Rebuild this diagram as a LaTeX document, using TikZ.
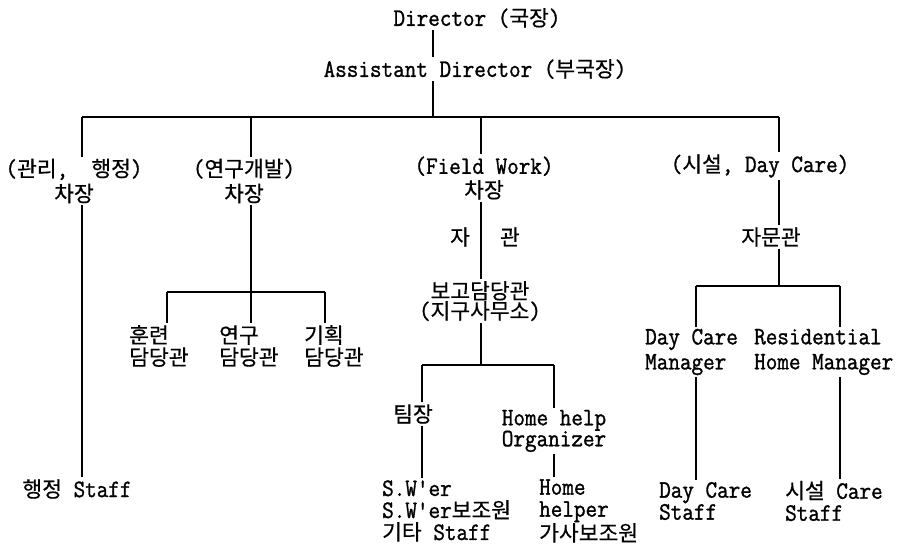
\documentclass[tikz,border=0pt]{standalone}
\usepackage{fontspec}
\setmonofont[FakeStretch=0.9,FakeBold=1.2]{Latin Modern Mono}
\newfontfamily\korfont[Scale=0.86,FakeBold=0.5]{Noto Sans CJK KR}
\newcommand\kor[1]{{\korfont #1}}
\begin{document}
\begin{tikzpicture}[x=1pt,y=-1pt,
  lbl/.style={font=\fontsize{25}{22}\selectfont\ttfamily, inner sep=2pt, align=center},
  lft/.style={font=\fontsize{25}{22}\selectfont\ttfamily, inner sep=2pt, align=left, anchor=west},
  conn/.style={line width=1.3pt}]
\useasboundingbox (0,0) rectangle (905,549);
% nodes
\node[lbl] (dir) at (477,18) {Director (\kor{국장})};
\node[lbl] (asst) at (475,69) {Assistant Director (\kor{부국장})};
\node[lbl] (h1) at (74,181) {(\kor{관리},~~\kor{행정})\\[3pt]\kor{차장}};
\node[lbl] (h2) at (244,181) {(\kor{연구개발})\\[3pt]\kor{차장}};
\node[lbl] (h3) at (484,178) {(Field Work)\\[2pt]\kor{차장}};
\node[lbl] (h4) at (760,166) {(\kor{시설}, Day Care)};
\node[lbl] (jagwan) at (485,237) {\kor{자}\hspace{30pt}\kor{관}};
\node[lbl] (jamun) at (771,237) {\kor{자문관}};
\node[lbl] (rep) at (480,301) {\kor{보고담당관}\\[-2pt](\kor{지구사무소})};
\node[lft] (t1) at (127,346) {\kor{훈련}\\\kor{담당관}};
\node[lft] (t2) at (217,346) {\kor{연구}\\\kor{담당관}};
\node[lft] (t3) at (302,346) {\kor{기획}\\\kor{담당관}};
\node[lft] (mgr1) at (643,352) {Day Care\\[3pt]Manager};
\node[lft] (mgr2) at (752,352) {Residential\\[3pt]Home Manager};
\node[lbl] (team) at (413,414) {\kor{팀장}};
\node[lbl] (hho) at (554,431) {Home help\\[-1pt]Organizer};
\node[lbl] (admin) at (77,489) {\kor{행정} Staff};
\node[lft] (sw) at (380,511) {S.W'er\\S.W'er\kor{보조원}\\\kor{기타} Staff};
\node[lft] (hh) at (537,511) {Home\\helper\\\kor{가사보조원}};
\node[lft] (dcs) at (657,501) {Day Care\\Staff};
\node[lft] (scs) at (783,501) {\kor{시설} Care\\Staff};
% junction coordinates
\coordinate (xa) at (433,117);
\coordinate (b1) at (82,117);
\coordinate (b2) at (251,117);
\coordinate (b3) at (481,117);
\coordinate (b4) at (779,117);
\coordinate (s2) at (251,292);
\coordinate (s2l) at (167,292);
\coordinate (s2r) at (325,292);
\coordinate (s3) at (481,365);
\coordinate (s3l) at (422,365);
\coordinate (s3r) at (554,365);
\coordinate (s4) at (779,286);
\coordinate (s4l) at (696,286);
\coordinate (s4r) at (840,286);
% connectors
\draw[conn] (dir.south -| xa) -- (asst.north -| xa);
\draw[conn] (asst.south -| xa) -- (xa);
\draw[conn] (b1) -- (b4);
\draw[conn] (b1) -- (h1.north -| b1);
\draw[conn] (h1.south -| b1) -- (admin.north -| b1);
\draw[conn] (b2) -- (h2.north -| b2);
\draw[conn] (h2.south -| b2) -- (s2);
\draw[conn] (s2l) -- (s2r);
\draw[conn] (s2l) -- (t1.north -| s2l);
\draw[conn] (s2) -- (t2.north -| s2);
\draw[conn] (s2r) -- (t3.north -| s2r);
\draw[conn] (b3) -- (h3.north -| b3);
\draw[conn] (h3.south -| b3) -- (rep.north -| b3);
\draw[conn] (rep.south -| b3) -- (s3);
\draw[conn] (s3l) -- (s3r);
\draw[conn] (s3l) -- (team.north -| s3l);
\draw[conn] (s3r) -- (hho.north -| s3r);
\draw[conn] (team.south -| s3l) -- (sw.north -| s3l);
\draw[conn] (hho.south -| s3r) -- (hh.north -| s3r);
\draw[conn] (b4) -- (h4.north -| b4);
\draw[conn] (h4.south -| b4) -- (jamun.north -| b4);
\draw[conn] (jamun.south -| b4) -- (s4);
\draw[conn] (s4l) -- (s4r);
\draw[conn] (s4l) -- (mgr1.north -| s4l);
\draw[conn] (s4r) -- (mgr2.north -| s4r);
\draw[conn] (mgr1.south -| s4l) -- (dcs.north -| s4l);
\draw[conn] (mgr2.south -| s4r) -- (scs.north -| s4r);
\end{tikzpicture}
\end{document}
